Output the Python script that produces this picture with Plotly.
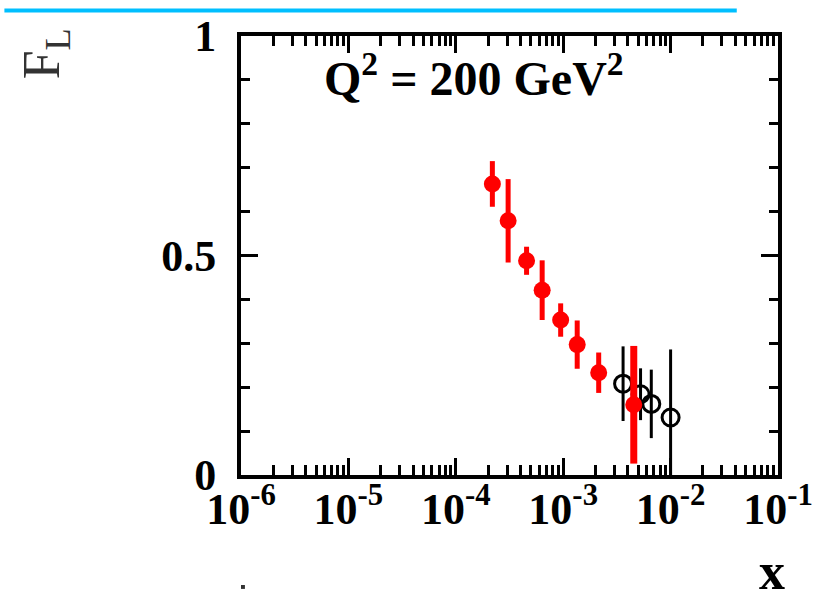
import plotly.graph_objects as go

# ---- data ----
x_red = [2.19e-4, 3.07e-4, 4.56e-4, 6.37e-4, 9.47e-4, 1.35e-3, 2.14e-3, 4.54e-3]
fl_red = [0.663, 0.579, 0.488, 0.421, 0.353, 0.297, 0.233, 0.160]
err_red = [0.052, 0.095, 0.032, 0.068, 0.038, 0.055, 0.046, 0.134]

x_open = [3.61e-3, 5.25e-3, 6.61e-3, 1.0e-2]
fl_open = [0.208, 0.184, 0.162, 0.131]
err_open_up = [0.085, 0.059, 0.078, 0.155]
err_open_dn = [0.085, 0.059, 0.078, 0.131]

x_tickvals = [1e-6, 1e-5, 1e-4, 1e-3, 1e-2, 1e-1]
x_ticktext = ["10<sup>-6</sup>", "10<sup>-5</sup>", "10<sup>-4</sup>",
              "10<sup>-3</sup>", "10<sup>-2</sup>", "10<sup>-1</sup>"]
y_tickvals = [0, 0.5, 1]
y_ticktext = ["0", "0.5", "1"]

label_text = "Q<sup>2</sup> = 200 GeV<sup>2</sup>"
ytitle_text = "F<sub>L</sub>"
xtitle_text = "x"

# ---- geometry (pixels) ----
W, H = 825, 594
L, R, T, B = 241, 37, 28, 119
PW, PH = W - L - R, H - T - B


def px(x):
    return (x - L) / PW


def py(y):
    return (H - B - y) / PH


FONT = "Liberation Serif"
RED = "#ff0000"
x_minor = [m * 10.0 ** e for e in range(-6, -1) for m in range(2, 10)]

fig = go.Figure()

fig.add_trace(go.Scatter(
    x=x_open, y=fl_open, mode="markers",
    marker=dict(symbol="circle-open", size=17, color="black", line=dict(width=3, color="black")),
    error_y=dict(type="data", symmetric=False, array=err_open_up, arrayminus=err_open_dn,
                 thickness=3, width=0, color="black"),
    showlegend=False,
))

# last red point has a visibly heavier error bar
fig.add_trace(go.Scatter(
    x=x_red[:-1], y=fl_red[:-1], mode="markers",
    marker=dict(symbol="circle", size=17, color=RED, line=dict(width=0)),
    error_y=dict(type="data", array=err_red[:-1], thickness=5, width=0, color=RED),
    showlegend=False,
))
fig.add_trace(go.Scatter(
    x=x_red[-1:], y=fl_red[-1:], mode="markers",
    marker=dict(symbol="circle", size=17, color=RED, line=dict(width=0)),
    error_y=dict(type="data", array=err_red[-1:], thickness=7, width=0, color=RED),
    showlegend=False,
))

axis_common = dict(
    showline=True, linewidth=4, linecolor="black", mirror="allticks",
    ticks="inside", ticklen=17, tickwidth=3, tickcolor="black",
    showgrid=False, zeroline=False,
    tickfont=dict(family=FONT, size=44, color="black", weight="bold"),
)

fig.update_xaxes(
    type="log", range=[-6, -1],
    tickmode="array", tickvals=x_tickvals, ticktext=x_ticktext,
    ticklabelstandoff=-8,
    minor=dict(tickmode="array", tickvals=x_minor, ticks="inside", ticklen=10,
               tickwidth=3, tickcolor="black", showgrid=False),
    **axis_common,
)
fig.update_yaxes(
    range=[0, 1],
    tickmode="array", tickvals=y_tickvals, ticktext=y_ticktext,
    ticklabelstandoff=12,
    minor=dict(dtick=0.1, ticks="inside", ticklen=9, tickwidth=3,
               tickcolor="black", showgrid=False),
    **axis_common,
)

fig.add_annotation(
    text=label_text, xref="paper", yref="paper", x=px(478), y=py(68),
    xanchor="center", yanchor="middle", showarrow=False,
    font=dict(family=FONT, size=48, color="black", weight="bold"),
)
fig.add_annotation(
    text=ytitle_text, xref="paper", yref="paper", x=px(42), y=py(46),
    xanchor="center", yanchor="middle", showarrow=False, textangle=-90,
    font=dict(family=FONT, size=52, color="#333333"),
)
fig.add_annotation(
    text=xtitle_text, xref="paper", yref="paper", x=px(797), y=py(573),
    xanchor="right", yanchor="middle", showarrow=False,
    font=dict(family=FONT, size=52, color="black", weight="bold"),
)

fig.add_shape(type="rect", xref="paper", yref="paper",
              x0=px(0), x1=px(746), y0=py(4), y1=py(0),
              fillcolor="#00bfff", line=dict(width=0), layer="above")
fig.add_shape(type="rect", xref="paper", yref="paper",
              x0=px(241), x1=px(245), y0=py(591), y1=py(587),
              fillcolor="#333333", line=dict(width=0))

fig.update_layout(
    width=W, height=H,
    margin=dict(l=L, r=R, t=T, b=B, pad=0),
    plot_bgcolor="white", paper_bgcolor="white",
    showlegend=False,
)

fig.write_html("out.html")
